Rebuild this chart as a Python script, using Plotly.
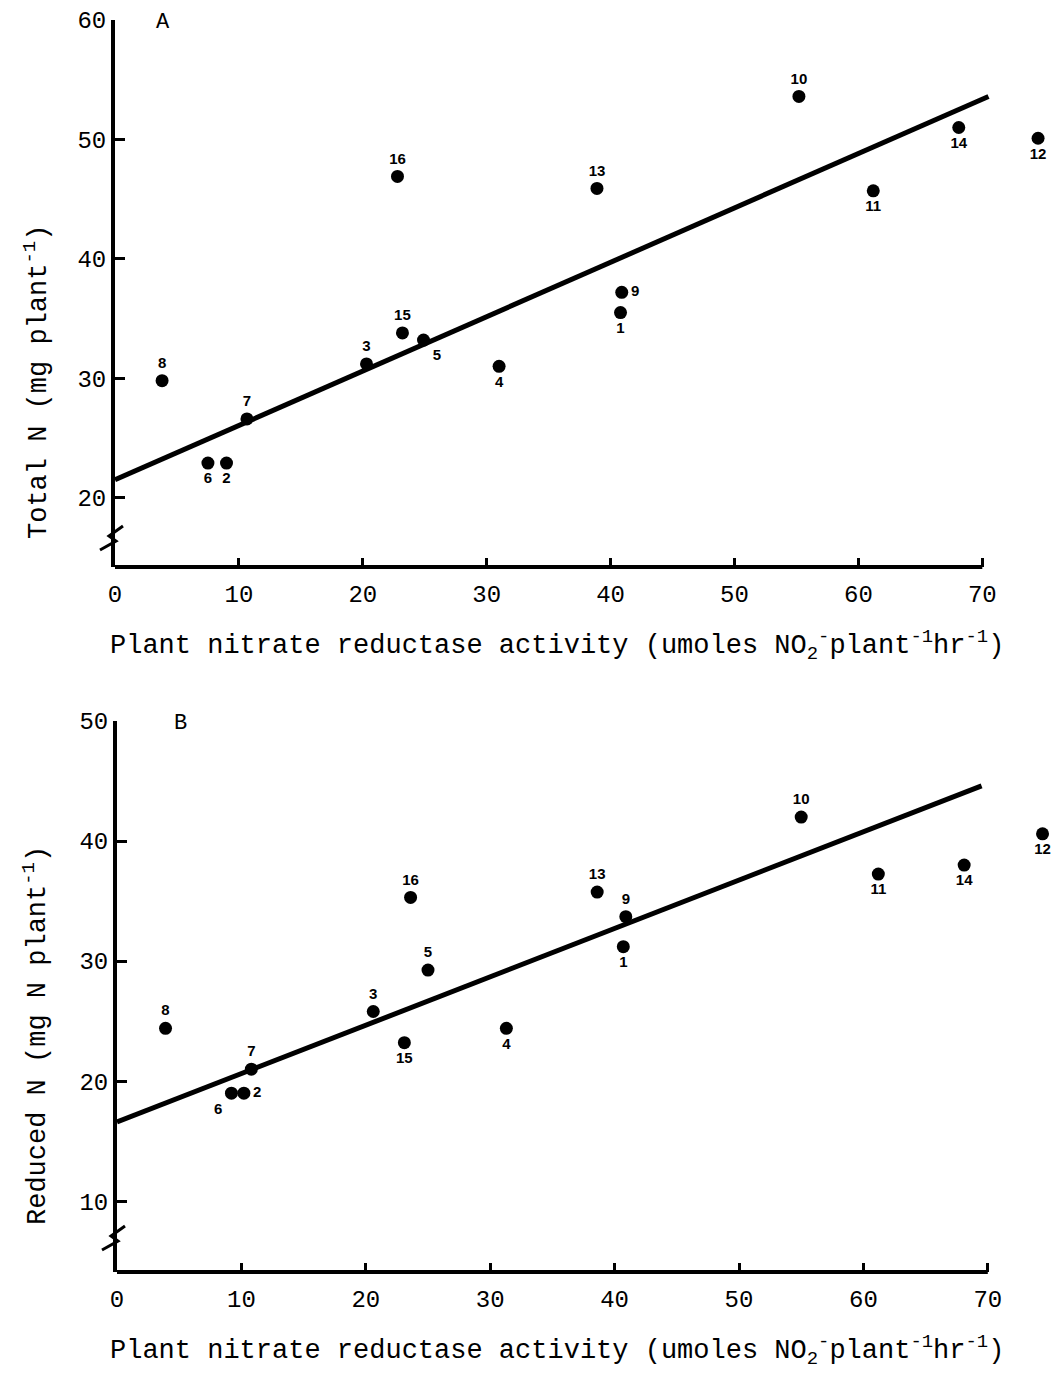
import plotly.graph_objects as go

# ---------------- data ----------------
plant_ids = ["1", "2", "3", "4", "5", "6", "7", "8", "9", "10", "11", "12", "13", "14", "15", "16"]

# Panel A: Total N vs plant nitrate reductase activity
nra_a = [40.8, 9.0, 20.3, 31.0, 24.9, 7.5, 10.65, 3.8, 40.9, 55.2, 61.2, 74.5, 38.9, 68.1, 23.2, 22.8]
total_n = [35.5, 22.9, 31.2, 31.0, 33.2, 22.9, 26.6, 29.8, 37.2, 53.6, 45.7, 50.1, 45.9, 51.0, 33.8, 46.9]
fit_a_x = [0, 70.5]
fit_a_y = [21.5, 53.6]

# Panel B: Reduced N vs plant nitrate reductase activity
nra_b = [40.7, 10.2, 20.6, 31.3, 25.0, 9.2, 10.8, 3.9, 40.9, 55.0, 61.2, 74.4, 38.6, 68.1, 23.1, 23.6]
reduced_n = [31.2, 19.0, 25.8, 24.4, 29.25, 19.0, 21.0, 24.4, 33.7, 42.0, 37.25, 40.6, 35.75, 38.0, 23.2, 35.3]
fit_b_x = [0, 69.5]
fit_b_y = [16.6, 44.6]

x_ticks = [0, 10, 20, 30, 40, 50, 60, 70]
y_ticks_a = [20, 30, 40, 50, 60]
y_ticks_b = [10, 20, 30, 40, 50]

# label placement (style)
pos_a = ["bottom center", "bottom center", "top center", "bottom center", "bottom right",
         "bottom center", "top center", "top center", "middle right", "top center",
         "bottom center", "bottom center", "top center", "bottom center", "top center", "top center"]
pos_b = ["bottom center", "middle right", "top center", "bottom center", "top center",
         "bottom left", "top center", "top center", "top center", "top center",
         "bottom center", "bottom center", "top center", "bottom center", "bottom center", "top center"]

W, H = 1058, 1376
MONO = "Liberation Mono"

fig = go.Figure()

def add_panel(xs, ys, fx, fy, pos, xa, ya):
    fig.add_trace(go.Scatter(x=fx, y=fy, mode="lines", xaxis=xa, yaxis=ya,
                             line=dict(color="black", width=5), showlegend=False,
                             hoverinfo="skip"))
    fig.add_trace(go.Scatter(x=xs, y=ys, mode="markers+text", xaxis=xa, yaxis=ya,
                             text=["<b>%s</b>" % t for t in plant_ids], textposition=pos,
                             textfont=dict(family="Liberation Sans Narrow, Liberation Sans",
                                           size=15, color="black"),
                             marker=dict(color="black", size=13),
                             cliponaxis=False, showlegend=False))

add_panel(nra_a, total_n, fit_a_x, fit_a_y, pos_a, "x", "y")
add_panel(nra_b, reduced_n, fit_b_x, fit_b_y, pos_b, "x2", "y2")

def px_to_xpaper(px):
    return px / W

def px_to_ypaper(py):
    return (H - py) / H

# axis geometry (pixels)
a_left, a_top, a_bot = 115, 20, 567
b_left, b_top, b_bot = 117, 721, 1272
a_xscale, b_xscale = 12.39, 12.44
x_max = 75.5
ya_range = [14.2, 60]
yb_range = [4.1, 50]

common_x = dict(range=[0, x_max], tickvals=x_ticks, showline=False, showgrid=False,
                zeroline=False, ticks="inside", ticklen=9, tickwidth=3, tickcolor="black",
                tickfont=dict(family=MONO, size=24, color="black"), ticklabelstandoff=10)
common_y = dict(showline=True, linewidth=4, linecolor="black", showgrid=False,
                zeroline=False, ticks="inside", ticklen=10, tickwidth=3, tickcolor="black",
                tickfont=dict(family=MONO, size=24, color="black"), ticklabelstandoff=0)

fig.update_layout(
    width=W, height=H,
    margin=dict(l=0, r=0, t=0, b=0, autoexpand=False),
    paper_bgcolor="white", plot_bgcolor="white",
    showlegend=False,
    xaxis=dict(domain=[px_to_xpaper(a_left), px_to_xpaper(a_left + x_max * a_xscale)],
               anchor="y", **common_x),
    yaxis=dict(domain=[px_to_ypaper(a_bot), px_to_ypaper(a_top)], range=ya_range,
               tickvals=y_ticks_a, anchor="x", **common_y),
    xaxis2=dict(domain=[px_to_xpaper(b_left), min(1.0, px_to_xpaper(b_left + x_max * b_xscale))],
                anchor="y2", **common_x),
    yaxis2=dict(domain=[px_to_ypaper(b_bot), px_to_ypaper(b_top)], range=yb_range,
                tickvals=y_ticks_b, anchor="x2", **common_y),
)

shapes = []
# x axis lines from 0 to 70
for xr, yr in (("x", "y"), ("x2", "y2")):
    shapes.append(dict(type="line", xref=xr, yref=f"{yr} domain", x0=0, x1=70, y0=0, y1=0,
                       line=dict(color="black", width=4)))
# axis break marks (paper-anchored so they are not clipped)
for ax_px, brk_py in ((a_left - 2, 540), (b_left - 2, 1240)):
    shapes.append(dict(type="path", xref="paper", yref="paper", xsizemode="pixel", ysizemode="pixel",
                       xanchor=px_to_xpaper(ax_px), yanchor=px_to_ypaper(brk_py),
                       path="M -13 -10 L 3 -1 L -4 4 L 10 14",
                       line=dict(color="black", width=3)))
fig.update_layout(shapes=shapes)

x_title = ("Plant nitrate reductase activity (umoles NO<sub>2</sub><sup>-</sup>"
           "plant<sup>-1</sup>hr<sup>-1</sup>)")
annos = [
    dict(text="A", x=3.9, y=59.8, xref="x", yref="y", showarrow=False,
         font=dict(family=MONO, size=22, color="black"), xanchor="center", yanchor="middle"),
    dict(text="B", x=5.1, y=49.8, xref="x2", yref="y2", showarrow=False,
         font=dict(family=MONO, size=22, color="black"), xanchor="center", yanchor="middle"),
    dict(text=x_title, x=px_to_xpaper(108), y=px_to_ypaper(645), xref="paper", yref="paper",
         showarrow=False, xanchor="left", yanchor="middle",
         font=dict(family=MONO, size=27, color="black")),
    dict(text=x_title, x=px_to_xpaper(108), y=px_to_ypaper(1350), xref="paper", yref="paper",
         showarrow=False, xanchor="left", yanchor="middle",
         font=dict(family=MONO, size=27, color="black")),
    dict(text="Total N (mg plant<sup>-1</sup>)", x=px_to_xpaper(36), y=px_to_ypaper(382),
         xref="paper", yref="paper", showarrow=False, textangle=-90,
         xanchor="center", yanchor="middle", font=dict(family=MONO, size=27, color="black")),
    dict(text="Reduced N (mg N plant<sup>-1</sup>)", x=px_to_xpaper(35), y=px_to_ypaper(1036),
         xref="paper", yref="paper", showarrow=False, textangle=-90,
         xanchor="center", yanchor="middle", font=dict(family=MONO, size=27, color="black")),
]
fig.update_layout(annotations=annos)

fig.write_html("out.html")
